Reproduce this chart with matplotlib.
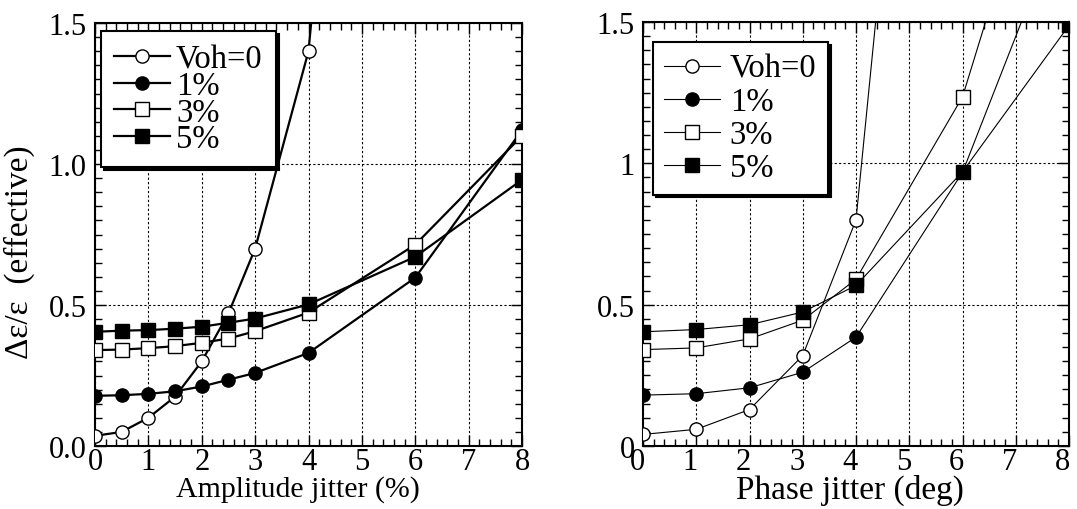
import matplotlib
matplotlib.use("Agg")
import matplotlib.pyplot as plt
import matplotlib.transforms as mtransforms
from matplotlib.ticker import MultipleLocator, FixedLocator

plt.rcParams["font.family"] = ["Liberation Serif", "DejaVu Serif"]

labels = ["Voh=0", "1%", "3%", "5%"]

# amplitude jitter panel
amp_x0 = [0, 0.5, 1, 1.5, 2, 2.5, 3, 4, 6]
amp_v0 = [0.036, 0.05, 0.10, 0.175, 0.30, 0.47, 0.70, 1.40, 5.4]
amp_x = [0, 0.5, 1, 1.5, 2, 2.5, 3, 4, 6, 8]
amp_v1 = [0.178, 0.18, 0.185, 0.194, 0.211, 0.235, 0.259, 0.33, 0.597, 1.12]
amp_v3 = [0.34, 0.342, 0.347, 0.354, 0.366, 0.381, 0.407, 0.473, 0.714, 1.10]
amp_v5 = [0.405, 0.409, 0.411, 0.416, 0.423, 0.437, 0.452, 0.502, 0.671, 0.944]

# phase jitter panel
ph_x = [0, 1, 2, 3, 4, 6, 8]
ph_v0 = [0.041, 0.059, 0.129, 0.32, 0.80, 4.6]
ph_v1 = [0.18, 0.185, 0.206, 0.261, 0.385, 0.968, 1.93]
ph_v3 = [0.341, 0.347, 0.379, 0.445, 0.59, 1.235, 2.46]
ph_v5 = [0.404, 0.412, 0.429, 0.474, 0.568, 0.97, 1.488]

styles = [("o", "white"), ("o", "black"), ("s", "white"), ("s", "black")]

fig = plt.figure(figsize=(10.77, 5.10), dpi=100)
ax1 = fig.add_axes([95 / 1077, 63 / 510, 427 / 1077, 423 / 510])
ax2 = fig.add_axes([643 / 1077, 63 / 510, 426 / 1077, 424 / 510])


def style_axes(ax, ylabels):
    ax.set_xlim(0, 8)
    ax.set_ylim(0, 1.5)
    ax.xaxis.set_major_locator(MultipleLocator(1))
    ax.xaxis.set_minor_locator(MultipleLocator(0.2))
    ax.yaxis.set_major_locator(FixedLocator([0, 0.5, 1.0, 1.5]))
    ax.yaxis.set_minor_locator(MultipleLocator(0.05))
    ax.set_yticklabels(ylabels)
    ax.tick_params(which="both", direction="in", top=True, right=True,
                   labelsize=22, width=1.0)
    ax.tick_params(which="major", length=8)
    ax.tick_params(which="minor", length=5)
    ax.tick_params(axis="x", pad=1)
    ax.tick_params(axis="y", pad=6)
    ax.grid(True, which="major", color="black", linestyle=(0, (2, 2)), linewidth=0.8)
    for s in ax.spines.values():
        s.set_linewidth(1.5)
    ax.set_axisbelow(True)


def draw(ax, xs, ys, lw, anchor, lblspace, bpad, hlen, tpad):
    for (m, fc), x, y, lab in zip(styles, xs, ys, labels):
        ax.plot(x[:len(y)], y, marker=m, color="black", markerfacecolor=fc,
                markeredgecolor="black", markeredgewidth=1.0, markersize=9.5,
                linewidth=lw, label=lab, clip_on=True, zorder=3)
    leg = ax.legend(loc="upper left", bbox_to_anchor=anchor, borderaxespad=0,
                    fontsize=23.5, frameon=True, fancybox=False,
                    shadow={"color": "black", "alpha": 1.0},
                    handlelength=hlen, handletextpad=tpad, labelspacing=lblspace,
                    borderpad=bpad)
    leg.get_frame().set_edgecolor("black")
    leg.get_frame().set_linewidth(1.5)
    leg.get_frame().set_alpha(1.0)
    leg.set_zorder(5)


style_axes(ax1, ["0.0", "0.5", "1.0", "1.5"])
draw(ax1, [amp_x0, amp_x, amp_x, amp_x], [amp_v0, amp_v1, amp_v3, amp_v5],
     1.6, (6 / 427, 1 - 8 / 423), -0.12, 0.4, 1.7, 0.2)
ax1.set_xlabel("Amplitude jitter (%)", fontsize=21.5)
ax1.xaxis.set_label_coords(0.475, -0.068)
ax1.xaxis.label.set_va("top")
ax1.set_ylabel("Δε/ε  (effective)", fontsize=24)
ax1.yaxis.set_label_coords(-0.14, 0.46)

style_axes(ax2, ["0", "0.5", "1", "1.5"])
draw(ax2, [ph_x] * 4, [ph_v0, ph_v1, ph_v3, ph_v5],
     0.8, (10 / 426, 1 - 20 / 424), 0.08, 0.35, 1.7, 0.3)
ax2.set_xlabel("Phase jitter (deg)", fontsize=24)
ax2.xaxis.set_label_coords(0.485, -0.066)
ax2.xaxis.label.set_va("top")
shift = mtransforms.ScaledTranslation(-6 / 100, 0, fig.dpi_scale_trans)
for lbl in ax2.get_xticklabels():
    lbl.set_transform(lbl.get_transform() + shift)

fig.savefig("out.png", dpi=100)
